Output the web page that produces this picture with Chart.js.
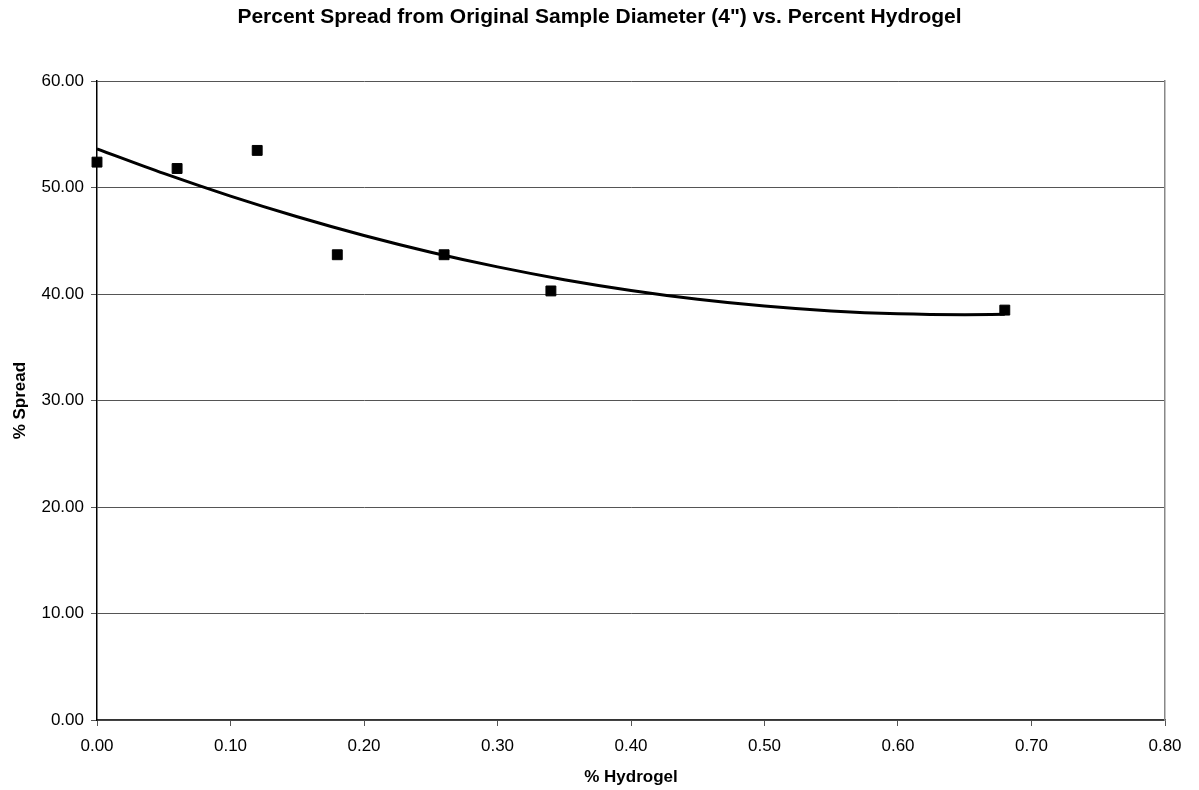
<!DOCTYPE html>
<html>
<head>
<meta charset="utf-8">
<script src="https://cdn.jsdelivr.net/npm/chart.js@4/dist/chart.umd.min.js"></script>
<style>
  html, body { margin: 0; padding: 0; background: #fff; }
  #wrap { width: 1199px; height: 790px; }
</style>
</head>
<body>
<div id="wrap"><canvas id="spread-chart"></canvas></div>
<script>
// measured samples
const hydrogelPct = [0.00, 0.06, 0.12, 0.18, 0.26, 0.34, 0.68];
const spreadPct   = [52.4, 51.8, 53.5, 43.7, 43.7, 40.3, 38.5];

// 2nd order trendline, read at fixed steps along its length
const trendX = [0.00, 0.05, 0.10, 0.15, 0.20, 0.25, 0.30, 0.35, 0.40, 0.45, 0.50, 0.55, 0.60, 0.65, 0.68];
const trendY = [53.65, 51.34, 49.21, 47.27, 45.51, 43.94, 42.56, 41.36, 40.35, 39.52, 38.88, 38.42, 38.15, 38.07, 38.10];

const xTicks = [0, 0.1, 0.2, 0.3, 0.4, 0.5, 0.6, 0.7, 0.8];
const yTicks = [0, 10, 20, 30, 40, 50, 60];

const samples = hydrogelPct.map((x, i) => ({ x, y: spreadPct[i] }));
const trend = trendX.map((x, i) => ({ x, y: trendY[i] }));

const family = 'Liberation Sans, Arial, sans-serif';
const tickFont = { family, size: 17 };
const axisTitleFont = { family, size: 17, weight: 'bold' };

new Chart(document.getElementById('spread-chart'), {
  type: 'scatter',
  data: {
    datasets: [
      {
        label: 'Spread',
        data: samples,
        pointStyle: 'rect',
        pointRadius: 7,
        pointBorderWidth: 1,
        backgroundColor: '#000',
        borderColor: '#000',
        clip: false,
        order: 1
      },
      {
        label: 'Trend',
        type: 'line',
        data: trend,
        borderColor: '#000',
        borderWidth: 3,
        pointRadius: 0,
        fill: false,
        cubicInterpolationMode: 'monotone',
        order: 2
      }
    ]
  },
  options: {
    responsive: true,
    maintainAspectRatio: false,
    animation: false,
    layout: { padding: 0 },
    plugins: {
      legend: { display: false },
      tooltip: { enabled: false },
      title: {
        display: true,
        text: 'Percent Spread from Original Sample Diameter (4") vs. Percent Hydrogel',
        color: '#000',
        font: { family, size: 21, weight: 'bold' },
        padding: { top: 5, bottom: 51 }
      }
    },
    scales: {
      x: {
        type: 'linear',
        min: 0,
        max: 0.8,
        afterBuildTicks: axis => { axis.ticks = xTicks.map(v => ({ value: v })); },
        afterFit: axis => { axis.height = 70; },
        ticks: {
          color: '#000',
          font: tickFont,
          padding: 10,
          maxRotation: 0,
          callback: v => v.toFixed(2)
        },
        grid: { drawOnChartArea: false, drawTicks: true, tickLength: 6, color: '#555' },
        border: { color: '#333', width: 1.5 },
        title: { display: true, text: '% Hydrogel', color: '#000', font: axisTitleFont, padding: { top: 0, bottom: 2 } }
      },
      y: {
        min: 0,
        max: 60,
        afterBuildTicks: axis => { axis.ticks = yTicks.map(v => ({ value: v })); },
        afterFit: axis => { axis.width = 97; },
        ticks: {
          color: '#000',
          font: tickFont,
          padding: 7,
          callback: v => v.toFixed(2)
        },
        grid: { color: '#555', lineWidth: 1, tickLength: 6 },
        border: { color: '#000', width: 1.5 },
        title: { display: true, text: '% Spread', color: '#000', font: axisTitleFont, padding: { top: 10, bottom: 0 } }
      },
      yEdge: {
        position: 'right',
        min: 0,
        max: 60,
        afterFit: axis => { axis.width = 34; },
        ticks: { display: false },
        grid: { display: false },
        border: { display: true, color: '#888', width: 1.5 }
      }
    }
  }
});
</script>
</body>
</html>
